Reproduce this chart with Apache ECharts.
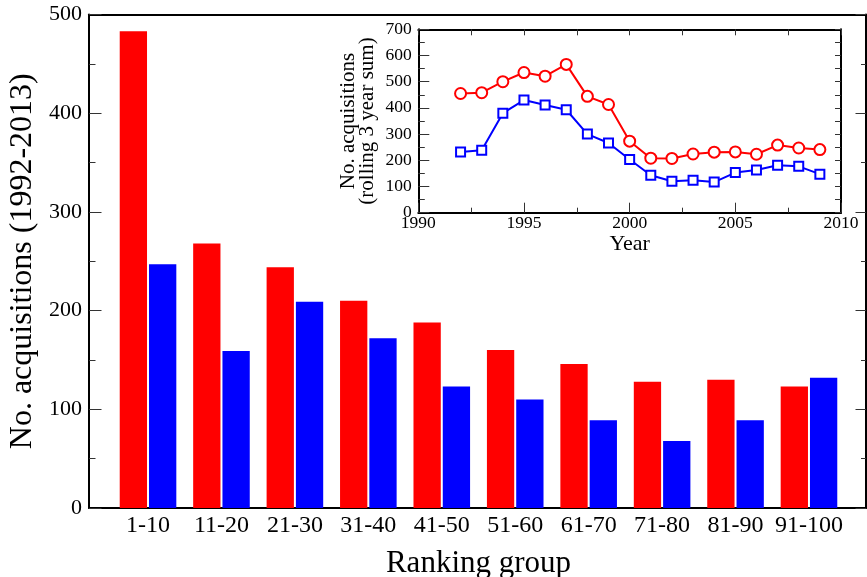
<!DOCTYPE html>
<html>
<head>
<meta charset="utf-8">
<script src="https://cdn.jsdelivr.net/npm/echarts@6/dist/echarts.min.js"></script>
<style>
html, body { margin: 0; padding: 0; background: #fff; }
#chart { width: 867px; height: 577px; }
</style>
</head>
<body>
<div id="chart"></div>
<script>
// main bars: acquisitions per ranking group (1992-2013)
var groups = ['1-10', '11-20', '21-30', '31-40', '41-50', '51-60', '61-70', '71-80', '81-90', '91-100'];
var groupRed = [483, 268, 244, 210, 188, 160, 146, 128, 130, 123];
var groupBlue = [247, 159, 209, 172, 123, 110, 89, 68, 89, 132];

// inset: rolling 3 year sums
var years = [1992, 1993, 1994, 1995, 1996, 1997, 1998, 1999, 2000, 2001, 2002, 2003, 2004, 2005, 2006, 2007, 2008, 2009];
var yearRed = [455, 458, 500, 535, 521, 566, 444, 413, 273, 208, 207, 224, 231, 232, 223, 258, 247, 241];
var yearBlue = [232, 238, 380, 430, 411, 393, 300, 266, 203, 143, 120, 124, 117, 153, 163, 181, 177, 147];

var font = "'Liberation Serif', 'Times New Roman', serif";
var RED = '#ff0000', BLUE = '#0000ff';

function pairs(xs, ys) {
  return xs.map(function (x, i) { return [x, ys[i]]; });
}
function plain(v) { return String(v); } // no thousands separator on years

var frameLine = { show: true, onZero: false, lineStyle: { color: '#000', width: 2 } };
var noTick = { show: false };
var noLabel = { show: false };
var noSplit = { show: false };

function ticks(len) {
  return { show: true, inside: true, length: len, lineStyle: { color: '#333', width: 1 } };
}
function minor(len) {
  return { show: true, splitNumber: 2, length: len, lineStyle: { color: '#333', width: 1 } };
}

var option = {
  animation: false,
  backgroundColor: '#fff',
  textStyle: { fontFamily: font, color: '#000' },
  grid: [
    // frame of the main plot
    { left: 89, top: 14.5, width: 777, height: 493.5, outerBoundsMode: 'none' },
    // band for the ranking groups (x range 0.2..10.8 in the original)
    { left: 111.3, top: 14.5, width: 734.4, height: 493.5, outerBoundsMode: 'none' },
    // inset
    { left: 418.3, top: 29.3, width: 422.7, height: 183.4, show: true, backgroundColor: '#fff', borderWidth: 0, z: 5, outerBoundsMode: 'none' }
  ],
  xAxis: [
    { gridIndex: 0, type: 'value', min: 0, max: 1, position: 'bottom', axisLine: frameLine, axisTick: noTick, axisLabel: noLabel, splitLine: noSplit },
    { gridIndex: 0, type: 'value', min: 0, max: 1, position: 'top', axisLine: frameLine, axisTick: noTick, axisLabel: noLabel, splitLine: noSplit },
    {
      gridIndex: 1, type: 'category', data: groups, position: 'bottom',
      axisLine: { show: false }, axisTick: noTick, splitLine: noSplit,
      axisLabel: { margin: 6, fontSize: 24, fontFamily: font, color: '#000', interval: 0 },
      name: 'Ranking group', nameLocation: 'middle', nameGap: 40,
      nameTextStyle: { fontSize: 31, fontFamily: font, color: '#000' }
    },
    {
      gridIndex: 2, type: 'value', min: 1990, max: 2010, interval: 5, position: 'bottom',
      axisLine: frameLine, axisTick: ticks(10), minorTick: minor(5), splitLine: noSplit,
      axisLabel: { margin: 2, fontSize: 17.5, fontFamily: font, color: '#000', formatter: plain },
      name: 'Year', nameLocation: 'middle', nameGap: 20,
      nameTextStyle: { fontSize: 22, fontFamily: font, color: '#000' }, z: 6
    },
    {
      gridIndex: 2, type: 'value', min: 1990, max: 2010, interval: 5, position: 'top',
      axisLine: frameLine, axisTick: ticks(6), minorTick: minor(6), axisLabel: noLabel, splitLine: noSplit, z: 6
    }
  ],
  yAxis: [
    {
      gridIndex: 0, type: 'value', min: 0, max: 500, interval: 100, position: 'left',
      axisLine: frameLine, axisTick: ticks(12.5), minorTick: minor(6.5), splitLine: noSplit,
      axisLabel: { margin: 7, fontSize: 22, fontFamily: font, color: '#000' },
      name: 'No. acquisitions (1992-2013)', nameLocation: 'middle', nameGap: 48,
      nameTextStyle: { fontSize: 32, fontFamily: font, color: '#000' }
    },
    {
      gridIndex: 0, type: 'value', min: 0, max: 500, interval: 100, position: 'right',
      axisLine: frameLine, axisTick: ticks(10.5), minorTick: minor(5), axisLabel: noLabel, splitLine: noSplit
    },
    { gridIndex: 1, type: 'value', min: 0, max: 500, show: false, splitLine: noSplit },
    {
      gridIndex: 2, type: 'value', min: 0, max: 700, interval: 100, position: 'left',
      axisLine: frameLine, axisTick: ticks(11), minorTick: minor(6.5), splitLine: noSplit,
      axisLabel: { margin: 6.5, fontSize: 17.5, fontFamily: font, color: '#000' },
      name: 'No. acquisitions\n(rolling 3 year sum)', nameLocation: 'middle', nameGap: 41,
      nameTextStyle: { fontSize: 21, lineHeight: 19, fontFamily: font, color: '#000' }, z: 6
    },
    {
      gridIndex: 2, type: 'value', min: 0, max: 700, interval: 100, position: 'right',
      axisLine: frameLine, axisTick: ticks(6), minorTick: minor(6), axisLabel: noLabel, splitLine: noSplit, z: 6
    }
  ],
  series: [
    {
      type: 'bar', xAxisIndex: 2, yAxisIndex: 2, data: groupRed,
      barWidth: 27.3, barGap: '7.3%', itemStyle: { color: RED }
    },
    {
      type: 'bar', xAxisIndex: 2, yAxisIndex: 2, data: groupBlue,
      barWidth: 27.3, barGap: '7.3%', itemStyle: { color: BLUE }
    },
    {
      type: 'line', xAxisIndex: 3, yAxisIndex: 3, data: pairs(years, yearRed), z: 10,
      symbol: 'circle', symbolSize: 11, showAllSymbol: true,
      lineStyle: { color: RED, width: 2 },
      itemStyle: { color: '#fff', borderColor: RED, borderWidth: 2 }
    },
    {
      type: 'line', xAxisIndex: 3, yAxisIndex: 3, data: pairs(years, yearBlue), z: 10,
      symbol: 'rect', symbolSize: 9, showAllSymbol: true,
      lineStyle: { color: BLUE, width: 2 },
      itemStyle: { color: '#fff', borderColor: BLUE, borderWidth: 2 }
    }
  ]
};

var chart = echarts.init(document.getElementById('chart'), null, { renderer: 'canvas' });
chart.setOption(option);
</script>
</body>
</html>
